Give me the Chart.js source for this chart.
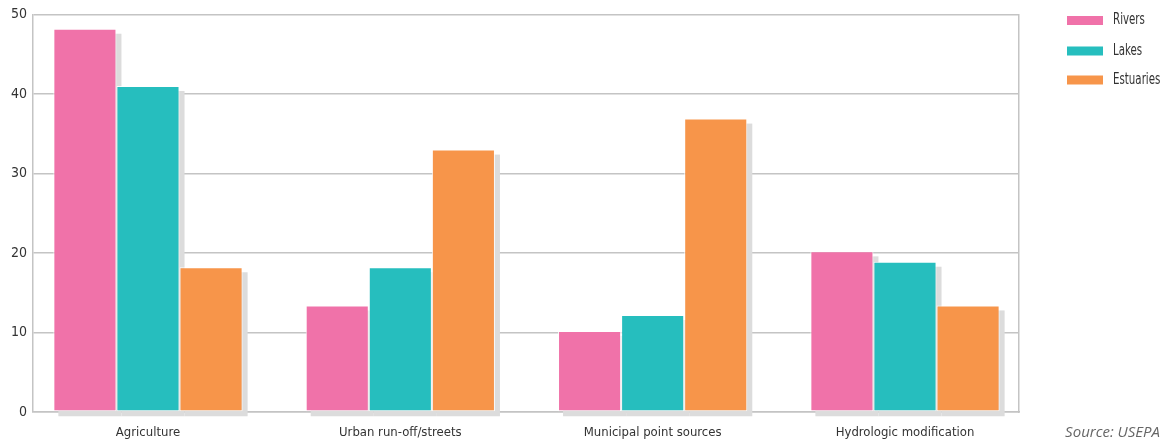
<!DOCTYPE html>
<html>
<head>
<meta charset="utf-8">
<script src="https://cdn.jsdelivr.net/npm/chart.js@4/dist/chart.umd.min.js"></script>
<style>
  html, body { margin: 0; padding: 0; background: #fff; }
  #wrap { width: 1165px; height: 443px; position: relative; }
</style>
</head>
<body>
<div id="wrap"><canvas id="c"></canvas></div>
<script>
const categories = ['Agriculture', 'Urban run-off/streets', 'Municipal point sources', 'Hydrologic modification'];
const seriesNames = ['Rivers', 'Lakes', 'Estuaries'];
const rivers = [48.2, 13.4, 10.2, 20.2];
const lakes = [41.0, 18.2, 12.2, 18.9];
const estuaries = [18.2, 33.0, 36.9, 13.4];
const yTicks = [0, 10, 20, 30, 40, 50];
const sourceText = 'Source: USEPA';

const colors = ['#F072A9', '#26BEBE', '#F7954A'];
const X_MIN = -0.4557, X_MAX = 3.4518;
const LABEL_FONT = "'DejaVu Sans Condensed', 'Liberation Sans Narrow', sans-serif";

function toPoints(arr) { return arr.map((v, i) => ({ x: i, y: v })); }

const shadowPlugin = {
  id: 'barShadow',
  beforeDatasetsDraw(chart) {
    const ctx = chart.ctx;
    ctx.save();
    ctx.fillStyle = '#dcdcdc';
    chart.data.datasets.forEach((ds, di) => {
      const meta = chart.getDatasetMeta(di);
      meta.data.forEach(el => {
        const p = el.getProps(['x', 'y', 'base', 'width'], true);
        ctx.fillRect(p.x - p.width / 2 + 5, p.y + 5, p.width, p.base - p.y);
      });
    });
    ctx.restore();
  }
};

const legendPlugin = {
  id: 'customLegend',
  afterDraw(chart) {
    const ctx = chart.ctx;
    ctx.save();
    const ys = [20.5, 51, 80];
    chart.data.datasets.forEach((ds, i) => {
      ctx.fillStyle = ds.backgroundColor;
      ctx.fillRect(1067, ys[i] - 4.5, 36, 9);
      ctx.save();
      ctx.translate(1113, ys[i]);
      ctx.scale(0.76, 1);
      ctx.fillStyle = '#333';
      ctx.font = '15px ' + LABEL_FONT;
      ctx.textAlign = 'left';
      ctx.textBaseline = 'middle';
      ctx.fillText(ds.label, 0, 0);
      ctx.restore();
    });
    ctx.fillStyle = '#666';
    ctx.font = "italic 15px 'Open Sans', sans-serif";
    ctx.textAlign = 'right';
    ctx.textBaseline = 'middle';
    ctx.fillText(sourceText, 1160, 433);
    ctx.restore();
  }
};

new Chart(document.getElementById('c'), {
  type: 'bar',
  data: {
    datasets: [
      { label: seriesNames[0], data: toPoints(rivers), backgroundColor: colors[0] },
      { label: seriesNames[1], data: toPoints(lakes), backgroundColor: colors[1] },
      { label: seriesNames[2], data: toPoints(estuaries), backgroundColor: colors[2] }
    ]
  },
  options: {
    responsive: true,
    maintainAspectRatio: false,
    animation: false,
    devicePixelRatio: 1,
    layout: { padding: { left: 0, right: 146, top: 14, bottom: 0 } },
    datasets: {
      bar: {
        categoryPercentage: 0.75,
        barPercentage: 1.0,
        borderWidth: 1,
        borderColor: 'rgba(255,255,255,0.85)',
        borderSkipped: false
      }
    },
    plugins: {
      legend: { display: false },
      tooltip: { enabled: false }
    },
    scales: {
      x: {
        type: 'linear',
        offset: false,
        min: X_MIN,
        max: X_MAX,
        bounds: 'data',
        afterBuildTicks(scale) {
          scale.ticks = categories.map((c, i) => ({ value: i }));
        },
        afterFit(scale) { scale.height = 31; },
        ticks: {
          autoSkip: false,
          maxRotation: 0,
          padding: 13,
          color: '#333',
          font: { family: LABEL_FONT, size: 13 },
          callback: (v) => (Number.isInteger(v) && categories[v] !== undefined) ? categories[v] : ''
        },
        grid: { display: false, drawTicks: false, offset: false },
        border: { display: true, color: '#c4c4c4', width: 1.5 }
      },
      y: {
        min: 0,
        max: 50,
        afterBuildTicks(scale) { scale.ticks = yTicks.map(v => ({ value: v })); },
        afterFit(scale) { scale.width = 33; },
        ticks: {
          padding: 6,
          color: '#333',
          font: { family: LABEL_FONT, size: 14 }
        },
        grid: { drawTicks: false, color: '#c4c4c4', lineWidth: 1.5 },
        border: { display: true, color: '#c4c4c4', width: 1.5 }
      },
      yRight: {
        position: 'right',
        min: 0,
        max: 50,
        afterFit(scale) { scale.width = 0; },
        ticks: { display: false },
        grid: { display: false, drawTicks: false },
        border: { display: true, color: '#c4c4c4', width: 1.5 }
      }
    }
  },
  plugins: [shadowPlugin, legendPlugin]
});
</script>
</body>
</html>
